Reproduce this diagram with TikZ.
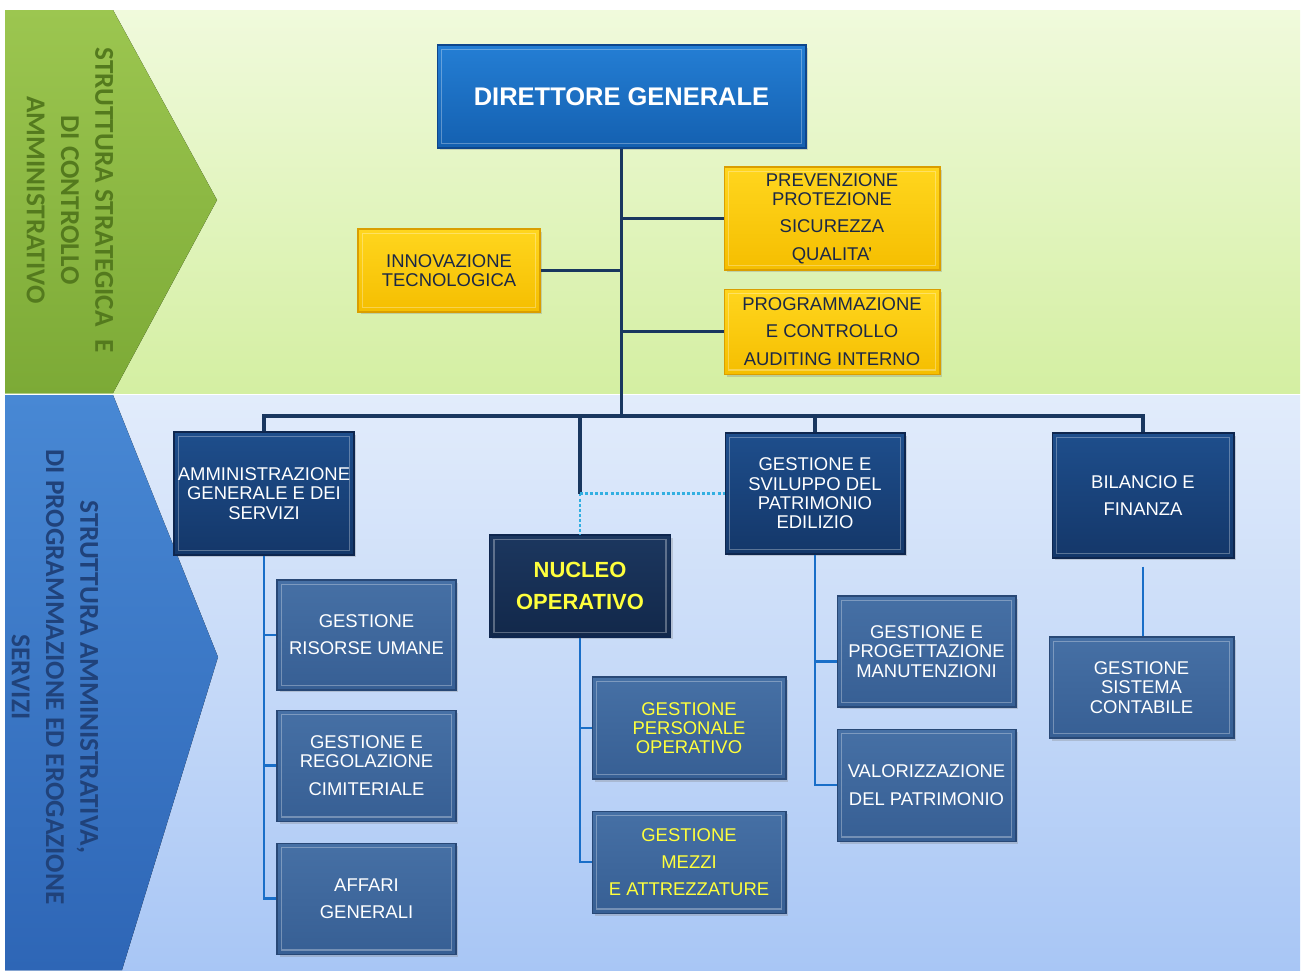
\documentclass[tikz,border=0pt]{standalone}
\usepackage{fontspec}
\setmainfont{Liberation Sans}
\newfontfamily\bandfont{Carlito}
\usetikzlibrary{positioning, shadows}
\definecolor{panelgreenA}{RGB}{240,250,220}
\definecolor{panelgreenB}{RGB}{212,239,162}
\definecolor{panelblueA}{RGB}{226,236,251}
\definecolor{panelblueB}{RGB}{168,198,245}
\definecolor{chevgreenA}{RGB}{156,198,80}
\definecolor{chevgreenB}{RGB}{124,170,54}
\definecolor{chevblueA}{RGB}{72,136,212}
\definecolor{chevblueB}{RGB}{46,102,182}
\definecolor{greenink}{RGB}{84,122,30}
\definecolor{blueink}{RGB}{32,66,122}
\definecolor{dgtop}{RGB}{36,126,212}
\definecolor{dgbot}{RGB}{20,96,176}
\definecolor{dgedge}{RGB}{14,70,140}
\definecolor{goldtop}{RGB}{255,214,30}
\definecolor{goldbot}{RGB}{245,190,0}
\definecolor{goldedge}{RGB}{218,158,0}
\definecolor{staffink}{RGB}{27,40,70}
\definecolor{navytop}{RGB}{30,78,140}
\definecolor{navybot}{RGB}{20,55,105}
\definecolor{navyedge}{RGB}{14,38,78}
\definecolor{nucleotop}{RGB}{28,55,95}
\definecolor{nucleobot}{RGB}{18,40,74}
\definecolor{steeltop}{RGB}{70,112,165}
\definecolor{steelbot}{RGB}{55,95,148}
\definecolor{steeledge}{RGB}{40,72,118}
\definecolor{alertyellow}{RGB}{255,255,60}
\definecolor{trunkblue}{RGB}{25,55,95}
\definecolor{subblue}{RGB}{25,110,200}
\definecolor{dotcyan}{RGB}{50,175,225}

\begin{document}
\begin{tikzpicture}[
        x=0.02cm, y=0.02cm,
        node distance=0.4cm,
        unit/.style={rectangle, inner sep=0pt, align=center, line width=0.6pt, font={\fontsize{10.5}{11}\selectfont},
            drop shadow={opacity=0.3, shadow xshift=0.5mm, shadow yshift=-0.5mm},
            path picture={\draw[white, opacity=0.3, line width=1pt] ([shift={(2.5pt,-2.5pt)}]path picture bounding box.north west) rectangle ([shift={(-2.5pt,2.5pt)}]path picture bounding box.south east);}},
        headbox/.style={unit, draw=navyedge, top color=navytop, bottom color=navybot, text=white, minimum width=3.6cm, minimum height=2.44cm},
        subbox/.style={unit, draw=steeledge, top color=steeltop, bottom color=steelbot, text=white, minimum width=3.58cm, minimum height=2.22cm},
        staffbox/.style={unit, draw=goldedge, top color=goldtop, bottom color=goldbot, text=staffink, minimum width=4.32cm},
        bandtext/.style={align=center, inner sep=0pt, font={\bandfont\bfseries\fontsize{15.5}{19.5}\selectfont}},
        trunk/.style={draw=trunkblue, line width=2.2pt},
        branch/.style={draw=subblue, line width=1.6pt},
        liaisonline/.style={draw=dotcyan, line width=1.6pt, dash pattern={on 1.7pt off 1.2pt}}
    ]
        \useasboundingbox (0,0) rectangle (1301,-970);
        \fill[top color=panelgreenA, bottom color=panelgreenB] (5,-10) rectangle (1300,-393);
        \fill[top color=panelblueA, bottom color=panelblueB] (5,-395) rectangle (1300,-970);
        \fill[top color=chevgreenA, bottom color=chevgreenB] (5,-10) -- (113,-10) -- (217,-200) -- (113,-393) -- (5,-393) -- cycle;
        \fill[top color=chevblueA, bottom color=chevblueB] (5,-395) -- (113,-395) -- (218,-657) -- (122,-970) -- (5,-970) -- cycle;
        \node[bandtext, text=greenink, rotate=-90] (bandtop) at (70,-200) {STRUTTURA STRATEGICA~ E\\DI CONTROLLO\\AMMINISTRATIVO};
        \node[bandtext, text=blueink, rotate=-90] (bandlow) at (55,-677) {STRUTTURA AMMINISTRATIVA,\\DI PROGRAMMAZIONE ED EROGAZIONE\\SERVIZI};

        \node[unit, draw=dgedge, top color=dgtop, bottom color=dgbot, text=white, font={\bfseries\fontsize{14.5}{16}\selectfont}, minimum width=7.38cm, minimum height=2.06cm] (dg) at (621.5,-96.5) {DIRETTORE GENERALE};
        \node[staffbox, minimum width=3.64cm, minimum height=1.66cm] (innov) at (449,-270.5) {INNOVAZIONE\\TECNOLOGICA};
        \node[staffbox, minimum height=2.06cm] (prev) at (832,-218.5) {PREVENZIONE\\PROTEZIONE\\[4.5pt]SICUREZZA\\[4.5pt]QUALITA'};
        \node[staffbox, below=0.36cm of prev, minimum height=1.7cm] (progr) {PROGRAMMAZIONE\\[4.5pt]E CONTROLLO\\[4.5pt]AUDITING INTERNO};

        \node[headbox, minimum height=2.46cm] (amm) at (264,-493.5) {AMMINISTRAZIONE\\GENERALE E DEI\\SERVIZI};
        \node[headbox, minimum height=2.42cm] (patr) at (815,-493.5) {GESTIONE E\\SVILUPPO DEL\\PATRIMONIO\\EDILIZIO};
        \node[headbox, minimum width=3.64cm, minimum height=2.5cm] (bil) at (1143,-495.5) {BILANCIO E\\[4.5pt]FINANZA};
        \node[headbox, top color=nucleotop, bottom color=nucleobot, text=alertyellow, font={\bfseries\fontsize{12.5}{18}\selectfont}, minimum width=3.62cm, minimum height=2.04cm] (nucleo) at (580,-586) {NUCLEO\\OPERATIVO};

        \node[subbox, minimum height=2.2cm] (risorse) at (366.5,-635) {GESTIONE\\[4.5pt]RISORSE UMANE};
        \node[subbox, below=0.38cm of risorse] (cimit) {GESTIONE E\\REGOLAZIONE\\[4.5pt]CIMITERIALE};
        \node[subbox, below=0.42cm of cimit] (affari) {AFFARI\\[4.5pt]GENERALI};
        \node[subbox, text=alertyellow, minimum width=3.88cm, minimum height=2.04cm] (pers) at (689,-728) {GESTIONE\\PERSONALE\\OPERATIVO};
        \node[subbox, text=alertyellow, below=0.62cm of pers, minimum width=3.88cm, minimum height=2.04cm] (mezzi) {GESTIONE\\[4.5pt]MEZZI\\[4.5pt]E ATTREZZATURE};
        \node[subbox] (progett) at (926.5,-651.5) {GESTIONE E\\PROGETTAZIONE\\MANUTENZIONI};
        \node[subbox, below=0.42cm of progett, minimum height=2.24cm] (valor) {VALORIZZAZIONE\\[4.5pt]DEL PATRIMONIO};
        \node[subbox, minimum width=3.7cm, minimum height=2.02cm] (sist) at (1141.5,-687.5) {GESTIONE\\SISTEMA\\CONTABILE};

        \coordinate (hub) at (dg.south |- 0,-416);
        \draw[trunk] (dg.south) -- (hub);
        \draw[trunk] (dg.south |- prev.west) -- (prev.west);
        \draw[trunk] (innov.east) -- (dg.south |- innov.east);
        \draw[trunk] (dg.south |- progr.west) -- (progr.west);
        \draw[trunk] (amm.north) -- (amm.north |- hub) -- (bil.north |- hub) -- (bil.north);
        \draw[trunk] (patr.north |- hub) -- (patr.north);
        \coordinate (liaison) at (nucleo.north |- patr.west);
        \draw[trunk] (nucleo.north |- hub) -- (liaison);
        \draw[liaisonline] (liaison) -- (nucleo.north);
        \draw[liaisonline] (liaison) -- (patr.west);

        \draw[branch] (amm.south) |- (affari.west);
        \draw[branch] (amm.south |- risorse.west) -- (risorse.west);
        \draw[branch] (amm.south |- cimit.west) -- (cimit.west);
        \draw[branch] (nucleo.south) |- (mezzi.west);
        \draw[branch] (nucleo.south |- pers.west) -- (pers.west);
        \coordinate (progtap) at ([yshift=-0.2cm]progett.west);
        \draw[branch] (patr.south) |- (valor.west);
        \draw[branch] (patr.south |- progtap) -- (progtap);
        \draw[branch, shorten <=0.16cm] (bil.south) -- (bil.south |- sist.north);
    \end{tikzpicture}
\end{document}
